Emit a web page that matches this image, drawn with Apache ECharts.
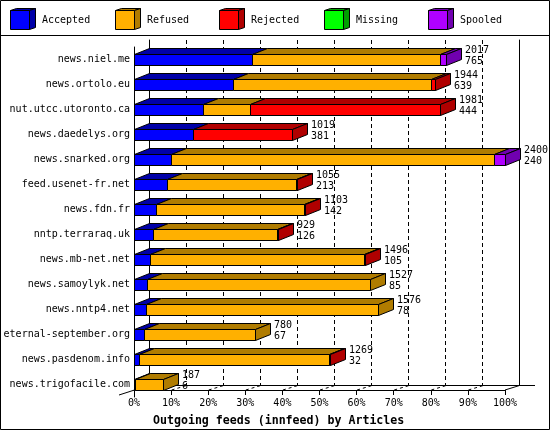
<!DOCTYPE html>
<html>
<head>
<meta charset="utf-8">
<script src="https://cdn.jsdelivr.net/npm/echarts@6/dist/echarts.min.js"></script>
<style>html,body{margin:0;padding:0;background:#fff}#c{width:550px;height:430px}</style>
</head>
<body>
<div id="c"></div>
<script>
const categories = ['news.niel.me','news.ortolo.eu','nut.utcc.utoronto.ca','news.daedelys.org','news.snarked.org','feed.usenet-fr.net','news.fdn.fr','nntp.terraraq.uk','news.mb-net.net','news.samoylyk.net','news.nntp4.net','eternal-september.org','news.pasdenom.info','news.trigofacile.com'];
const seriesNames = ['Accepted','Refused','Rejected','Missing','Spooled'];
const accepted = [765,639,444,381,240,213,142,126,105,85,78,67,32,6];
const refused  = [1215,1285,304,0,2088,833,958,800,1386,1442,1498,713,1232,181];
const rejected = [0,20,1233,638,0,9,3,3,5,0,0,0,5,0];
const missing  = [0,0,0,0,0,0,0,0,0,0,0,0,0,0];
const spooled  = [37,0,0,0,72,0,0,0,0,0,0,0,0,0];
const totals   = [2017,1944,1981,1019,2400,1055,1103,929,1496,1527,1576,780,1269,187];
const xTickLabels = ['0%','10%','20%','30%','40%','50%','60%','70%','80%','90%','100%'];
const xMax = 2400;

const frontColors = ['#0000FF','#FFB000','#FF0000','#00FF00','#B000FF'];
const darkColors  = ['#0000A8','#B07C00','#B00000','#00A000','#7000B0'];
const FONT = '"DejaVu Sans Mono", "Liberation Mono", monospace';
const FS = 10;
const DX = 15, DY = -6, FH = 11;

const segs = [accepted, refused, rejected, missing, spooled];
const lastSeg = categories.map((c,i)=>{ let l=0; segs.forEach((s,k)=>{ if(s[i]>0) l=k; }); return l; });

function segData(k){
  return categories.map((c,i)=>{
    let start=0; for(let j=0;j<k;j++) start+=segs[j][i];
    return [start, start+segs[k][i], i];
  });
}

function renderSeg(k){
  return function(params, api){
    const s = api.value(0), e = api.value(1), i = api.value(2);
    if (e - s <= 0) return null;
    const p0 = api.coord([s, i]), p1 = api.coord([e, i]);
    const x0 = Math.round(p0[0]) + 0.5, x1 = Math.round(p1[0]) + 0.5;
    const top = Math.round(p0[1] - FH/2) + 0.5;
    const children = [
      {type:'polygon', shape:{points:[[x0,top],[x1,top],[x1+DX,top+DY],[x0+DX,top+DY]]},
        style:{fill:darkColors[k], stroke:'#000', lineWidth:1}},
      {type:'rect', shape:{x:x0, y:top, width:x1-x0, height:FH},
        style:{fill:frontColors[k], stroke:'#000', lineWidth:1}}
    ];
    if (lastSeg[i] === k) {
      children.push({type:'polygon', shape:{points:[[x1,top],[x1+DX,top+DY],[x1+DX,top+DY+FH],[x1,top+FH]]},
        style:{fill:darkColors[k], stroke:'#000', lineWidth:1}});
    }
    return {type:'group', children};
  };
}

const series = seriesNames.map((n,k)=>({
  name:n, type:'custom', xAxisIndex:0, yAxisIndex:0,
  data: segData(k), encode:{x:[0,1], y:2},
  renderItem: renderSeg(k), z: 5
}));

series.push({
  name:'labels', type:'custom', xAxisIndex:0, yAxisIndex:0, z:6,
  data: categories.map((c,i)=>[totals[i], i, accepted[i]]),
  encode:{x:0, y:1},
  renderItem: function(params, api){
    const p = api.coord([api.value(0), api.value(1)]);
    const x = Math.round(p[0]) + 19;
    return {type:'group', children:[
      {type:'text', style:{text:String(api.value(0)), x:x, y:p[1]-9.5, font:FS+'px '+FONT, fill:'#000', align:'left', verticalAlign:'middle'}},
      {type:'text', style:{text:String(api.value(2)), x:x, y:p[1]+1.5, font:FS+'px '+FONT, fill:'#000', align:'left', verticalAlign:'middle'}}
    ]};
  }
});

const legendGraphics = [];
seriesNames.forEach((n,k)=>{
  const x = 10 + k*104.5, y = 10.5, s = 19;
  const xr = Math.round(x)+0.5;
  legendGraphics.push({type:'polygon', shape:{points:[[xr,y],[xr+s,y],[xr+s+6,y-2],[xr+6,y-2]]}, style:{fill:darkColors[k], stroke:'#000', lineWidth:1}});
  legendGraphics.push({type:'polygon', shape:{points:[[xr+s,y],[xr+s+6,y-2],[xr+s+6,y+s-2],[xr+s,y+s]]}, style:{fill:darkColors[k], stroke:'#000', lineWidth:1}});
  legendGraphics.push({type:'rect', shape:{x:xr, y:y, width:s, height:s}, style:{fill:frontColors[k], stroke:'#000', lineWidth:1}});
  legendGraphics.push({type:'text', x: Math.round(x)+32, y:20, style:{text:n, font:FS+'px '+FONT, fill:'#000', verticalAlign:'middle'}});
});

const frame = [
  {type:'rect', shape:{x:0.5,y:0.5,width:549,height:429}, style:{fill:null, stroke:'#000', lineWidth:1}, z:10},
  {type:'line', shape:{x1:0,y1:35.5,x2:550,y2:35.5}, style:{stroke:'#000', lineWidth:1}},
  {type:'line', shape:{x1:149,y1:385.5,x2:535,y2:385.5}, style:{stroke:'#000', lineWidth:1}, z:1},
  {type:'line', shape:{x1:119,y1:395,x2:134.5,y2:390}, style:{stroke:'#000', lineWidth:1}},
  {type:'line', shape:{x1:505,y1:390,x2:519.5,y2:385.5}, style:{stroke:'#000', lineWidth:1}, z:1}
];
for (let k=1;k<10;k++){
  const xf = 134.5 + 37.1*k;
  frame.push({type:'line', shape:{x1:xf,y1:390,x2:xf+15,y2:385.5}, style:{stroke:'#000', lineWidth:1, lineDash:[3,3]}, z:1});
}

const chart = echarts.init(document.getElementById('c'), null, {renderer:'canvas'});
chart.setOption({
  animation:false,
  backgroundColor:'#fff',
  title:{text:'Outgoing feeds (innfeed) by Articles', left:148, top:410,
    textStyle:{fontFamily:FONT, fontSize:11.6, fontWeight:'bold', color:'#000'}},
  grid:[
    {left:134, right:45, top:47, height:350, containLabel:false, outerBoundsMode:'none'},
    {left:149, right:31, top:40, bottom:45, containLabel:false, outerBoundsMode:'none'}
  ],
  xAxis:[
    {type:'value', gridIndex:0, min:0, max:xMax, interval:xMax/10, offset:-7,
      axisLine:{show:true, lineStyle:{color:'#000', width:1}},
      axisTick:{show:true, length:5, lineStyle:{color:'#000'}},
      axisLabel:{margin:8, color:'#000', fontFamily:FONT, fontSize:FS,
        formatter:(v)=>xTickLabels[Math.round(v/(xMax/10))]},
      splitLine:{show:false}},
    {type:'value', gridIndex:1, min:0, max:xMax, interval:xMax/10,
      axisLine:{show:false}, axisTick:{show:false}, axisLabel:{show:false},
      splitLine:{show:true, showMinLine:false, showMaxLine:false, lineStyle:{color:'#000', width:1, type:[4,3]}}}
  ],
  yAxis:[
    {type:'category', gridIndex:0, data:categories, inverse:true,
      axisLine:{show:true, lineStyle:{color:'#000', width:1}},
      axisTick:{show:false},
      axisLabel:{margin:4, color:'#000', fontFamily:FONT, fontSize:FS}},
    {type:'value', gridIndex:1, min:0, max:1, position:'left',
      axisLine:{show:true, lineStyle:{color:'#000', width:1}},
      axisTick:{show:false}, axisLabel:{show:false}, splitLine:{show:false}},
    {type:'value', gridIndex:1, min:0, max:1, position:'right',
      axisLine:{show:true, lineStyle:{color:'#000', width:1}},
      axisTick:{show:false}, axisLabel:{show:false}, splitLine:{show:false}}
  ],
  graphic: legendGraphics.concat(frame),
  series: series
});
</script>
</body>
</html>
